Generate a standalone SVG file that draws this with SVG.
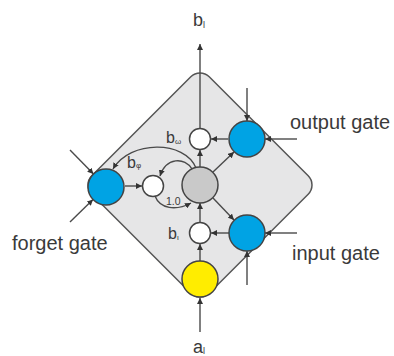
<svg xmlns="http://www.w3.org/2000/svg" width="394" height="356" viewBox="0 0 394 356">
<style>
.ln{fill:none;stroke:#4a4a4a;stroke-width:1.4}
.c{stroke:#444;stroke-width:1.5}
.lbl{font-family:"Liberation Sans",Arial,sans-serif;font-size:20px;fill:#3a3a3a}
.sym{font-family:"Liberation Sans",Arial,sans-serif;fill:#3a3a3a}
</style>
<defs>
<marker id="ah" viewBox="0 0 6 6" refX="6" refY="3" markerWidth="6" markerHeight="6" markerUnits="userSpaceOnUse" orient="auto">
<path d="M0,0 L6,3 L0,6 z" fill="#333"/>
</marker>
</defs>
<rect width="394" height="356" fill="#fff"/>
<g id="block">
<rect x="117" y="102" width="166" height="166" rx="13" transform="rotate(45 200 185)" fill="#e6e6e7" stroke="#555" stroke-width="1.5"/>
</g>
<g id="connectors">
<path class="ln" d="M200,129 L200,44" marker-end="url(#ah)"/>
<path class="ln" d="M228,139 L211,139" marker-end="url(#ah)"/>
<path class="ln" d="M200,167 L200,150" marker-end="url(#ah)"/>
<path class="ln" d="M213,172 L234,152" marker-end="url(#ah)"/>
<path class="ln" d="M213,198 L234,220" marker-end="url(#ah)"/>
<path class="ln" d="M200,222 L200,203" marker-end="url(#ah)"/>
<path class="ln" d="M229,233 L211,233" marker-end="url(#ah)"/>
<path class="ln" d="M200,261 L200,244" marker-end="url(#ah)"/>
<path class="ln" d="M200,332 L200,298" marker-end="url(#ah)"/>
<path class="ln" d="M125,186 L142,186" marker-end="url(#ah)"/>
<path class="ln" d="M155,196 C160,209 176,211 191,203" marker-end="url(#ah)"/>
<path class="ln" d="M192,169 C185,157 166,157 160,176" marker-end="url(#ah)"/>
<path class="ln" d="M196,168 C185,140 130,140 113,169" marker-end="url(#ah)"/>
<path class="ln" d="M247,88 L247,121" marker-end="url(#ah)"/>
<path class="ln" d="M297,139 L265,139" marker-end="url(#ah)"/>
<path class="ln" d="M297,233 L265,233" marker-end="url(#ah)"/>
<path class="ln" d="M247,285 L247,251" marker-end="url(#ah)"/>
<path class="ln" d="M70,150 L93.5,174" marker-end="url(#ah)"/>
<path class="ln" d="M70,222 L93,199.5" marker-end="url(#ah)"/>
</g>
<g id="forget-gate"><circle class="c" cx="106" cy="187" r="18" fill="#00a3e4"/></g>
<g id="forget-mult"><circle class="c" cx="153" cy="186" r="10.5" fill="#fff"/></g>
<g id="cell"><circle class="c" cx="200" cy="185" r="18" fill="#c9c9c9"/></g>
<g id="output-mult"><circle class="c" cx="200" cy="139" r="10.5" fill="#fff"/></g>
<g id="output-gate"><circle class="c" cx="247" cy="139" r="18" fill="#00a3e4"/></g>
<g id="input-mult"><circle class="c" cx="200" cy="233" r="10.5" fill="#fff"/></g>
<g id="input-gate"><circle class="c" cx="247" cy="233" r="18" fill="#00a3e4"/></g>
<g id="input"><circle class="c" cx="200" cy="279" r="18" fill="#ffed00"/></g>
<g id="labels">
<text class="lbl" x="290" y="129">output gate</text>
<text class="lbl" x="12" y="250">forget gate</text>
<text class="lbl" x="292" y="260">input gate</text>
<text class="sym" x="193" y="26" font-size="18">b<tspan font-size="9" dy="2">l</tspan></text>
<text class="sym" x="193" y="353" font-size="18">a<tspan font-size="9" dy="1">l</tspan></text>
<text class="sym" x="166" y="143" font-size="16">b<tspan font-size="8" dy="1">ω</tspan></text>
<text class="sym" x="127" y="168" font-size="16">b<tspan font-size="8" dy="0">φ</tspan></text>
<text class="sym" x="168" y="239" font-size="16">b<tspan font-size="8" dy="1">ι</tspan></text>
<text class="sym" x="166" y="205" font-size="10.5">1.0</text>
</g>
</svg>
